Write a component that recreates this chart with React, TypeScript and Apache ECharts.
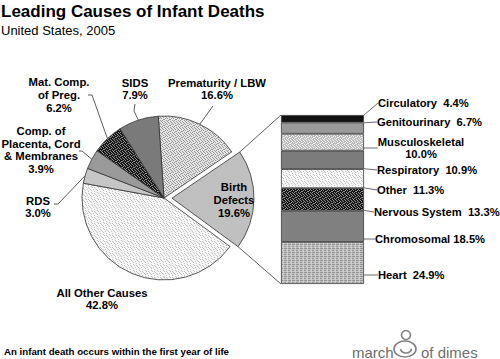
import React, { useEffect, useRef } from 'react';
import * as echarts from 'echarts';

// ---------------- data ----------------
const pieNames = ['Prematurity / LBW', 'Birth Defects', 'All Other Causes', 'RDS', 'Comp. of Placenta, Cord & Membranes', 'Mat. Comp. of Preg.', 'SIDS'];
const pieLabelText = ['Prematurity / LBW', 'Birth\nDefects', 'All Other Causes', 'RDS', 'Comp. of\nPlacenta, Cord\n& Membranes', 'Mat. Comp.\nof Preg.', 'SIDS'];
const pieValues = [16.6, 19.6, 42.8, 3.0, 3.9, 6.2, 7.9];

const defectNames = ['Circulatory', 'Genitourinary', 'Musculoskeletal', 'Respiratory', 'Other', 'Nervous System', 'Chromosomal', 'Heart'];
const defectValues = [4.4, 6.7, 10.0, 10.9, 11.3, 13.3, 18.5, 24.9];
const defectSep = ['  ', '  ', '\n', '  ', '  ', '  ', ' ', '  '];

const titleText = 'Leading Causes of Infant Deaths';
const subtitleText = 'United States, 2005';
const footText = 'An infant death occurs within the first year of life';

// ---------------- layout / style ----------------
const FONT = 'Liberation Sans';
const CX = 164, CY = 198, R = 82, START = 94, OFFSET = 8;
const GL = 281, GT = 115, GW = 83, GH = 169;
const BD_LABEL: [number, number] = [234, 200];

const pieLabelPos: ([number, number] | null)[] = [[217, 89], null, [102, 299], [38, 207], [41, 150], [59, 95], [135, 89]];
const pieLineRest: ([number, number][] | null)[] = [
  [[213, 106]],
  null,
  null,
  [[58, 204], [54, 204]],
  [[82, 151], [79, 151]],
  [[92, 95], [88, 95]],
  [[134, 111], [135, 104]],
];

const barLabelPos: { x: number; y: number; align: string; end: [number, number] }[] = [
  { x: 378, y: 103, align: 'left', end: [376, 101] },
  { x: 377, y: 122, align: 'left', end: [375, 121] },
  { x: 421, y: 148, align: 'center', end: [375, 146] },
  { x: 377, y: 170, align: 'left', end: [375, 170] },
  { x: 377, y: 190, align: 'left', end: [375, 190] },
  { x: 374, y: 212, align: 'left', end: [372, 212] },
  { x: 375, y: 239, align: 'left', end: [373, 239] },
  { x: 378, y: 275, align: 'left', end: [376, 275] },
];

// irregular stipple on a 6x6 tile
const STIPPLE: [number, number][] = [[0, 0], [4, 0], [2, 1], [5, 1], [0, 2], [3, 2], [1, 3], [4, 3], [3, 4], [5, 4], [1, 5], [2, 5]];
const STIPPLE2: [number, number][] = [[1, 0], [2, 1], [4, 1], [0, 3], [3, 3], [5, 2], [1, 4], [4, 5]];

function pattern(size: number, bg: string, layers: [string, [number, number][]][]) {
  const c = document.createElement('canvas');
  c.width = size;
  c.height = size;
  const ctx = c.getContext('2d')!;
  ctx.fillStyle = bg;
  ctx.fillRect(0, 0, size, size);
  layers.forEach(([fg, dots]) => {
    ctx.fillStyle = fg;
    dots.forEach(([x, y]) => ctx.fillRect(x, y, 1, 1));
  });
  return { image: c, repeat: 'repeat', imageWidth: size, imageHeight: size } as any;
}

export default function App() {
  const ref = useRef<HTMLDivElement>(null);
  useEffect(() => {
    const chart = echarts.init(ref.current!, null, { renderer: 'svg' });

    const patPrem = pattern(6, '#e4e4e4', [['#9a9a9a', STIPPLE]]);
    const patLight = pattern(6, '#f5f5f5', [['#c4c4c4', STIPPLE2]]);
    const patDark = pattern(6, '#181818', [['#8c8c8c', STIPPLE]]);
    const patMusc = pattern(6, '#bdbdbd', [['#efefef', STIPPLE]]);
    const patHeart = pattern(4, '#c2c2c2', [['#959595', [[0, 0], [1, 0], [2, 0], [0, 2], [1, 2]]], ['#d8d8d8', [[3, 1], [3, 3]]]]);

    const pieColors = [patPrem, '#c0c0c0', patLight, '#c6c6c6', '#9a9a9a', patDark, '#7a7a7a'];
    const barColors = ['#111111', '#9a9a9a', patMusc, '#7c7c7c', patLight, patDark, '#808080', patHeart];

    const total = pieValues.reduce((a, b) => a + b, 0);
    const bounds: [number, number][] = [];
    let acc = 0;
    pieValues.forEach((v) => {
      const a0 = START - (acc / total) * 360;
      acc += v;
      const a1 = START - (acc / total) * 360;
      bounds.push([a0, a1]);
    });
    const rad = (d: number) => (d * Math.PI) / 180;
    const edge = (i: number): [number, number] => {
      const m = rad((bounds[i][0] + bounds[i][1]) / 2);
      return [CX + R * Math.cos(m), CY - R * Math.sin(m)];
    };
    const bdMid = rad((bounds[1][0] + bounds[1][1]) / 2);
    const bcx = CX + OFFSET * Math.cos(bdMid);
    const bcy = CY - OFFSET * Math.sin(bdMid);
    const bdStart: [number, number] = [bcx + R * Math.cos(rad(bounds[1][0])), bcy - R * Math.sin(rad(bounds[1][0]))];
    const bdEnd: [number, number] = [bcx + R * Math.cos(rad(bounds[1][1])), bcy - R * Math.sin(rad(bounds[1][1]))];

    const pieData = pieNames.map((n, i) => ({
      name: n,
      value: pieValues[i],
      selected: i === 1,
      itemStyle: { color: pieColors[i] },
      label: i === 1 ? { show: false } : {},
      labelLine: { show: !!pieLineRest[i] },
    }));

    const rev = defectNames.map((_, i) => i).reverse();
    const barSeries = rev.map((k) => ({
      type: 'bar',
      name: defectNames[k],
      stack: 'bd',
      barWidth: '100%',
      silent: true,
      data: [defectValues[k]],
      itemStyle: { color: barColors[k], borderColor: '#3a3a3a', borderWidth: 0.8 },
      label: {
        show: true,
        position: 'right',
        formatter: () => defectNames[k] + defectSep[k] + defectValues[k].toFixed(1) + '%',
        fontFamily: FONT,
        fontSize: 11.2,
        fontWeight: 'bold',
        color: '#000',
        lineHeight: 12.5,
        align: barLabelPos[k].align,
      },
      labelLine: { show: true, lineStyle: { color: '#444', width: 0.8 } },
      labelLayout: (p: any) => {
        const L = barLabelPos[k];
        const r = p.rect;
        const x0 = r.x + r.width;
        const y0 = r.y + r.height / 2;
        const e = L.end;
        return {
          x: L.x,
          y: L.y,
          align: L.align,
          verticalAlign: 'middle',
          labelLinePoints: [[x0, y0], [x0 + 4, y0 + (e[1] - y0) * 0.75], e],
        };
      },
    }));

    const option: any = {
      animation: false,
      textStyle: { fontFamily: FONT },
      grid: { left: GL, top: GT, width: GW, height: GH },
      xAxis: { type: 'category', data: ['Birth Defects'], show: false },
      yAxis: { type: 'value', min: 0, max: 100, show: false },
      series: [
        {
          type: 'pie',
          center: [CX, CY],
          radius: R,
          startAngle: START,
          clockwise: true,
          silent: true,
          selectedMode: 'single',
          selectedOffset: OFFSET,
          avoidLabelOverlap: false,
          itemStyle: { borderColor: '#333', borderWidth: 0.8 },
          emphasis: { disabled: true },
          label: {
            show: true,
            position: 'outside',
            formatter: (p: any) => pieLabelText[p.dataIndex] + '\n' + pieValues[p.dataIndex].toFixed(1) + '%',
            fontFamily: FONT,
            fontSize: 11.3,
            fontWeight: 'bold',
            color: '#000',
            lineHeight: 12.8,
            align: 'center',
          },
          labelLine: { show: true, lineStyle: { color: '#333', width: 0.8 } },
          labelLayout: (p: any) => {
            const i = p.dataIndex;
            const pos = pieLabelPos[i];
            if (!pos) return {};
            const rest = pieLineRest[i];
            const out: any = { x: pos[0], y: pos[1], align: 'center', verticalAlign: 'middle' };
            if (rest) out.labelLinePoints = [edge(i), ...rest];
            return out;
          },
          data: pieData,
        },
        ...barSeries,
      ],
      graphic: [
        { type: 'text', left: 1, top: 3, style: { text: titleText, font: `bold 17px "${FONT}"`, fill: '#000' } },
        { type: 'text', left: 1, top: 24, style: { text: subtitleText, font: `13px "${FONT}"`, fill: '#000' } },
        {
          type: 'text', x: BD_LABEL[0], y: BD_LABEL[1], silent: true, z: 100, zlevel: 0,
          style: {
            text: pieLabelText[1] + '\n' + pieValues[1].toFixed(1) + '%',
            font: `bold 11.3px "${FONT}"`, lineHeight: 12.8, fill: '#000',
            align: 'center', verticalAlign: 'middle', textAlign: 'center', textVerticalAlign: 'middle',
          },
        },
        { type: 'text', x: 4, y: 351, style: { text: footText, font: `bold 9.7px "${FONT}"`, fill: '#000', textVerticalAlign: 'middle' } },
        { type: 'line', z: 100, shape: { x1: GL, y1: GT, x2: bdStart[0], y2: bdStart[1] }, style: { stroke: '#333', lineWidth: 0.8 } },
        { type: 'line', z: 100, shape: { x1: GL, y1: GT + GH, x2: bdEnd[0], y2: bdEnd[1] }, style: { stroke: '#333', lineWidth: 0.8 } },
        { type: 'text', x: 352, y: 352, style: { text: 'march', font: `15px "${FONT}"`, fill: '#6e6e6e', textVerticalAlign: 'middle' } },
        { type: 'text', x: 421, y: 352, style: { text: 'of dimes', font: `15px "${FONT}"`, fill: '#6e6e6e', textVerticalAlign: 'middle' } },
        { type: 'circle', shape: { cx: 406, cy: 335, r: 4.5 }, style: { fill: 'none', stroke: '#808080', lineWidth: 1.6 } },
        { type: 'ellipse', shape: { cx: 405, cy: 349, rx: 11, ry: 8 }, style: { fill: 'none', stroke: '#808080', lineWidth: 1.6 } },
        { type: 'arc', shape: { cx: 406, cy: 347, r: 6, startAngle: 0.3, endAngle: 2.8 }, style: { fill: 'none', stroke: '#808080', lineWidth: 1.6 } },
      ],
    };
    chart.setOption(option);
    return () => chart.dispose();
  }, []);
  return <div ref={ref} style={{ position: 'absolute', left: 0, top: 0, width: 500, height: 359, background: '#fff' }} />;
}
